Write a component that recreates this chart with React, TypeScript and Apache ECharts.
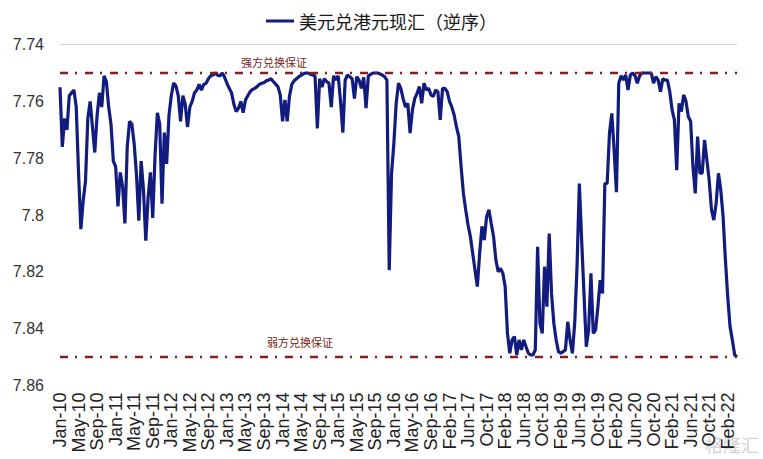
import React, { useEffect, useRef } from "react";
import * as echarts from "echarts";

const seriesName = "美元兑港元现汇（逆序）";

const tickLabels = [
  "Jan-10", "May-10", "Sep-10", "Jan-11", "May-11", "Sep-11", "Jan-12", "May-12", "Sep-12",
  "Jan-13", "May-13", "Sep-13", "Jan-14", "May-14", "Sep-14", "Jan-15", "May-15", "Sep-15",
  "Jan-16", "May-16", "Sep-16", "Feb-17", "Jun-17", "Oct-17", "Feb-18", "Jun-18", "Oct-18",
  "Feb-19", "Jun-19", "Oct-19", "Feb-20", "Jun-20", "Oct-20", "Feb-21", "Jun-21", "Oct-21", "Feb-22",
];
const pointsPerTick = 8;

const rate2010to2011 = [
  7.755, 7.776, 7.766, 7.770, 7.758, 7.757, 7.756, 7.762, 7.785, 7.805,
  7.795, 7.788, 7.766, 7.760, 7.769, 7.778, 7.765, 7.757, 7.762, 7.751,
  7.753, 7.762, 7.768, 7.781, 7.783, 7.797, 7.785, 7.790, 7.803, 7.776,
  7.767, 7.768, 7.775, 7.786, 7.802, 7.781, 7.791, 7.809, 7.794, 7.785,
  7.801, 7.779, 7.764, 7.768, 7.796, 7.771, 7.782, 7.765, 7.758, 7.7535,
];
const rate2012to2013 = [
  7.7545, 7.758, 7.767, 7.758, 7.761, 7.769, 7.762, 7.760, 7.757, 7.756,
  7.754, 7.756, 7.754, 7.7536, 7.752, 7.751, 7.7507, 7.750, 7.7508, 7.751,
  7.750, 7.7515, 7.7536, 7.7554, 7.757, 7.761, 7.7636, 7.7624, 7.760, 7.764,
  7.7595, 7.758, 7.7566, 7.7558, 7.7554, 7.7548, 7.754, 7.7536, 7.7534, 7.7527,
  7.7525, 7.752, 7.753, 7.7539, 7.7548, 7.7577, 7.767, 7.7595, 7.767, 7.758,
];
const rate2014to2016 = [
  7.754, 7.7527, 7.752, 7.7513, 7.7508, 7.7503, 7.750, 7.750, 7.7505, 7.7507,
  7.751, 7.7695, 7.752, 7.755, 7.752, 7.753, 7.7536, 7.762, 7.751, 7.7525,
  7.751, 7.760, 7.771, 7.7525, 7.7507, 7.7513, 7.752, 7.759, 7.7513, 7.7525,
  7.7554, 7.7515, 7.7624, 7.751, 7.7505, 7.750, 7.750, 7.750, 7.7503, 7.7507,
  7.7513, 7.7525, 7.8194, 7.7853, 7.7748, 7.7607, 7.7536, 7.7554, 7.759, 7.762,
  7.7607, 7.7712, 7.763, 7.759, 7.7572, 7.7548, 7.7607, 7.7536, 7.756, 7.7554,
  7.7577, 7.7583, 7.756, 7.7566, 7.7665, 7.7554, 7.7554, 7.7566, 7.760, 7.762,
];
const rate2017to2019 = [
  7.7648, 7.769, 7.7724, 7.783, 7.7924, 7.7982, 7.8035, 7.8076, 7.8135, 7.8194,
  7.8252, 7.8135, 7.804, 7.8088, 7.8006, 7.7982, 7.803, 7.8076, 7.8158, 7.820,
  7.8188, 7.8205, 7.8252, 7.8417, 7.8487, 7.844, 7.8428, 7.8493, 7.844, 7.8475,
  7.844, 7.8464, 7.8487, 7.8493, 7.8493, 7.8475, 7.8112, 7.8381, 7.8417, 7.8182,
  7.8323, 7.8065, 7.8276, 7.8381, 7.844, 7.8481, 7.8487, 7.8481, 7.8475, 7.8376,
  7.844, 7.8487, 7.8381, 7.8182, 7.7889, 7.8088, 7.8276, 7.8464, 7.8405, 7.8205,
  7.8417, 7.8405, 7.8323, 7.8229, 7.8276, 7.7889, 7.7889, 7.7712, 7.7642, 7.7771,
];
const rate2020to2022 = [
  7.792, 7.7536, 7.751, 7.7525, 7.7507, 7.756, 7.7507, 7.750, 7.751, 7.7536,
  7.751, 7.750, 7.750, 7.750, 7.750, 7.750, 7.7536, 7.7513, 7.7525, 7.7566,
  7.752, 7.7525, 7.7525, 7.7566, 7.763, 7.7665, 7.7842, 7.7607, 7.7636, 7.7577,
  7.760, 7.7654, 7.767, 7.783, 7.7924, 7.7724, 7.7853, 7.7853, 7.7736, 7.7806,
  7.7877, 7.7982, 7.8018, 7.7959, 7.7853, 7.7912, 7.8006, 7.8158, 7.8288, 7.8393,
  7.844, 7.8493, 7.850,
];

const rateValues = [
  ...rate2010to2011,
  ...rate2012to2013,
  ...rate2014to2016,
  ...rate2017to2019,
  ...rate2020to2022,
];

const guaranteeLevels = [7.75, 7.85];
const guaranteeLabels = ["强方兑换保证", "弱方兑换保证"];
const yRange = [7.74, 7.86];
const yStep = 0.02;

const NAVY = "#111c7e";
const DARK_RED = "#861f1f";

export default function App() {
  const ref = useRef<HTMLDivElement>(null);

  useEffect(() => {
    if (!ref.current) return;
    const chart = echarts.init(ref.current, undefined, { renderer: "svg" });

    const categories = rateValues.map((_, i) => {
      const g = Math.floor(i / pointsPerTick);
      const s = i % pointsPerTick;
      return s === 0 ? tickLabels[g] : `${tickLabels[g]} +${s}`;
    });

    chart.setOption({
      animation: false,
      backgroundColor: "#ffffff",
      legend: {
        data: [seriesName],
        top: 7,
        left: "center",
        icon: "rect",
        itemWidth: 28,
        itemHeight: 3,
        itemGap: 3,
        textStyle: { fontSize: 18, color: "#1a1a1a", fontFamily: "Noto Sans CJK SC" },
      },
      grid: { left: 60, right: 26, top: 44.6, bottom: 73.6, containLabel: false },
      xAxis: [
        {
          type: "category",
          data: categories,
          boundaryGap: false,
          position: "bottom",
          axisLine: { show: false },
          axisTick: { show: false },
          splitLine: { show: false },
          axisLabel: {
            interval: (i: number) => i % pointsPerTick === 0,
            rotate: 90,
            fontSize: 18,
            color: "#222222",
            fontFamily: "Liberation Sans",
            margin: 7,
            formatter: (v: string) => v.split(" ")[0],
          },
        },
        {
          type: "category",
          data: categories,
          boundaryGap: false,
          position: "top",
          axisLine: { show: true, lineStyle: { color: "#d9d9d9", width: 1 } },
          axisTick: { show: false },
          axisLabel: { show: false },
          splitLine: { show: false },
        },
      ],
      yAxis: {
        type: "value",
        inverse: true,
        min: yRange[0],
        max: yRange[1],
        interval: yStep,
        axisLine: { show: false },
        axisTick: { show: false },
        splitLine: { show: false },
        axisLabel: {
          fontSize: 16,
          color: "#333333",
          fontFamily: "Liberation Sans",
          margin: 16,
          formatter: (v: number) => String(parseFloat(v.toFixed(2))),
        },
      },
      series: [
        {
          name: "guarantee",
          type: "line",
          data: [],
          z: 1,
          silent: true,
          markLine: {
            symbol: "none",
            silent: true,
            label: { show: false },
            lineStyle: { color: DARK_RED, width: 2.3, type: [8, 7, 2, 8] },
            data: guaranteeLevels.map((v) => ({ yAxis: v })),
          },
        },
        {
          name: seriesName,
          type: "line",
          data: rateValues,
          showSymbol: false,
          symbol: "none",
          z: 3,
          lineStyle: { color: NAVY, width: 3.2 },
          itemStyle: { color: NAVY },
        },
      ],
      graphic: [
        {
          type: "text",
          left: 241,
          top: 56,
          style: { text: guaranteeLabels[0], fill: "#7a2418", fontSize: 11, fontFamily: "Noto Sans CJK SC" },
        },
        {
          type: "text",
          left: 267,
          top: 336,
          style: { text: guaranteeLabels[1], fill: "#7a2418", fontSize: 11, fontFamily: "Noto Sans CJK SC" },
        },
        {
          type: "text",
          right: 4,
          bottom: 6,
          style: { text: "格隆汇", fill: "rgba(170,170,170,0.55)", fontSize: 18, fontFamily: "Noto Sans CJK SC" },
        },
      ],
    });

    return () => chart.dispose();
  }, []);

  return (
    <div
      ref={ref}
      style={{ position: "fixed", left: 0, top: 0, width: 763, height: 459, background: "#fff" }}
    />
  );
}
